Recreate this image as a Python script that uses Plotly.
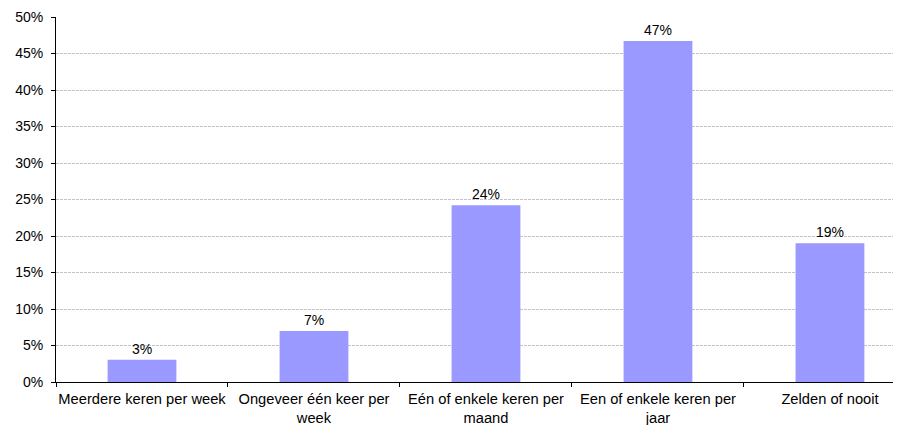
import plotly.graph_objects as go

categories = [
    "Meerdere keren per week",
    "Ongeveer één keer per<br>week",
    "Eén of enkele keren per<br>maand",
    "Een of enkele keren per<br>jaar",
    "Zelden of nooit",
]
values = [3.05, 7.0, 24.2, 46.7, 19.0]
labels = ["3%", "7%", "24%", "47%", "19%"]
y_ticks = [0, 5, 10, 15, 20, 25, 30, 35, 40, 45, 50]
y_tick_text = [f"{v}%" for v in y_ticks]

font = "Liberation Sans, Arial, sans-serif"

fig = go.Figure(
    go.Bar(
        x=categories,
        y=values,
        width=0.4,
        marker=dict(color="#9999FF", line=dict(width=0)),
        text=labels,
        textposition="outside",
        textfont=dict(family=font, size=14, color="#000000"),
        cliponaxis=False,
    )
)

fig.update_layout(
    width=893,
    height=417,
    margin=dict(l=48, r=0, t=9, b=43),
    paper_bgcolor="white",
    plot_bgcolor="white",
    showlegend=False,
    font=dict(family=font, size=14, color="#000000"),
)

fig.update_xaxes(
    type="category",
    range=[-0.5, 4.413],
    showgrid=False,
    showline=True,
    linecolor="#000000",
    linewidth=1,
    ticks="outside",
    tickson="boundaries",
    ticklen=4,
    tickcolor="#000000",
    tickfont=dict(family=font, size=14.7),
    tickangle=0,
    ticklabelstandoff=3,
    automargin=False,
)

fig.update_yaxes(
    range=[0, 50],
    tickvals=y_ticks,
    ticktext=y_tick_text,
    showgrid=True,
    gridcolor="#C4C4C4",
    griddash="3px,1px",
    gridwidth=1,
    showline=True,
    linecolor="#000000",
    linewidth=1,
    ticks="outside",
    ticklen=4,
    tickcolor="#000000",
    tickfont=dict(family=font, size=14),
    ticklabelstandoff=5,
    zeroline=False,
    automargin=False,
)

fig.write_html("out.html")
